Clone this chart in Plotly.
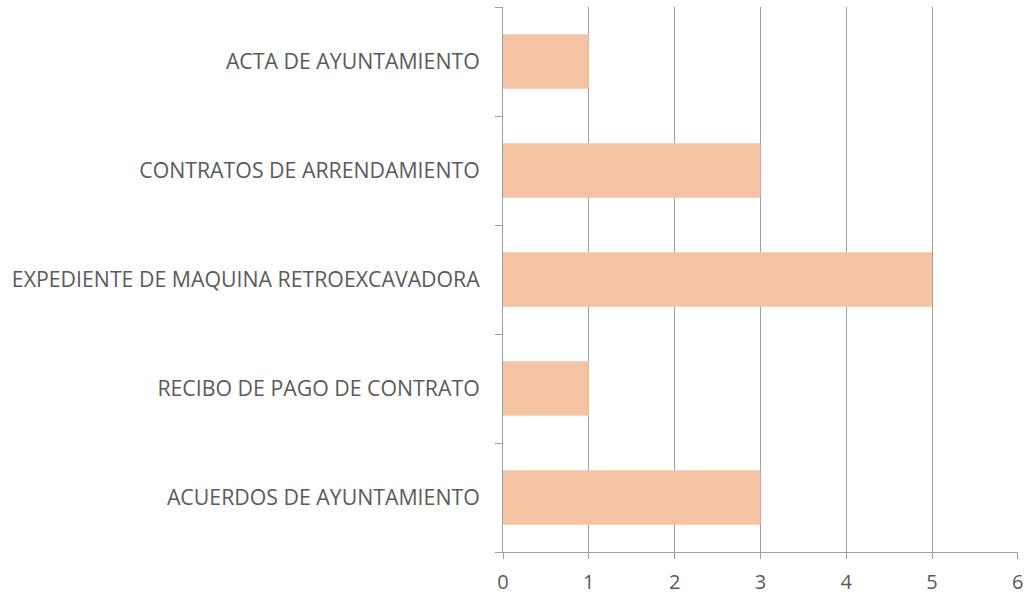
import plotly.graph_objects as go

categories = ["ACUERDOS DE AYUNTAMIENTO", "RECIBO DE PAGO DE CONTRATO",
              "EXPEDIENTE DE MAQUINA RETROEXCAVADORA", "CONTRATOS DE ARRENDAMIENTO",
              "ACTA DE AYUNTAMIENTO"]
values = [3, 1, 5, 3, 1]
x_ticks = [0, 1, 2, 3, 4, 5, 6]

fig = go.Figure(go.Bar(
    y=categories, x=values, orientation="h",
    marker=dict(color="#f4c4a2", line=dict(width=0)),
    width=0.5,
))

fig.update_layout(
    width=1028, height=595,
    margin=dict(l=503, r=10, t=7, b=43, autoexpand=False),
    paper_bgcolor="white", plot_bgcolor="white",
    font=dict(family="Open Sans, Liberation Sans, sans-serif", size=20, color="#5a5a5a"),
    showlegend=False,
)
fig.update_xaxes(
    range=[0, 6.002], tickvals=x_ticks, showgrid=True, gridcolor="#a39cab", gridwidth=1,
    showline=True, linecolor="#a39cab", ticks="outside", ticklen=6, tickcolor="#a39cab",
    zeroline=False, tickfont=dict(size=20, color="#5a5a5a"), ticklabelstandoff=6,
)
fig.update_yaxes(
    showline=True, linecolor="#a39cab", ticks="outside", ticklen=7, tickcolor="#a39cab",
    tickson="boundaries", showgrid=False, ticklabelstandoff=18,
    tickfont=dict(size=21.3, color="#5a5a5a"),
)

fig.write_html(
    "out.html",
    config={"displayModeBar": False},
    post_script="document.body.style.margin='0';document.body.style.overflow='hidden';",
)
